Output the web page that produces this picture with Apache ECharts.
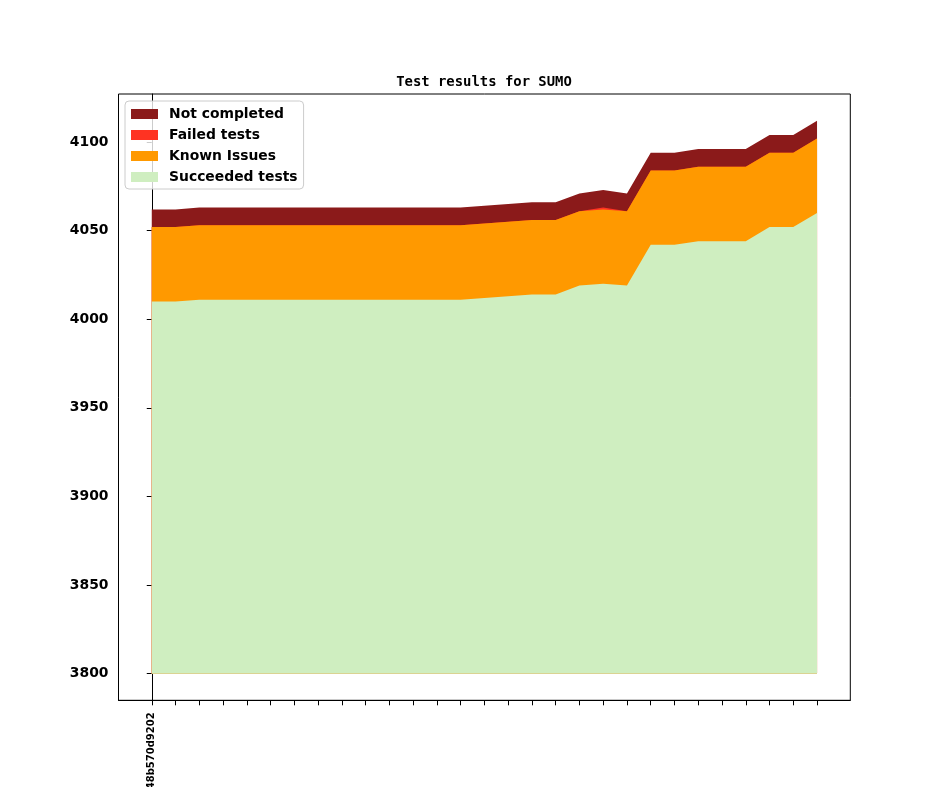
<!DOCTYPE html>
<html>
<head>
    <meta charset="utf-8">
    <script src="https://cdn.jsdelivr.net/npm/echarts@6.0.0/dist/echarts.min.js"></script>
    <style>
        html, body { margin: 0; padding: 0; background: #fff; }
        #main { width: 944px; height: 787px; }
    </style>
</head>
<body>
<div id="main"></div>
<script>
    // one entry per commit, only the first one is labelled in the picture
    var commits = ['48b570d9202', '', '', '', '', '', '', '', '', '', '', '', '', '', '',
        '', '', '', '', '', '', '', '', '', '', '', '', '', ''];
    var succeeded = [4010, 4010, 4011, 4011, 4011, 4011, 4011, 4011, 4011, 4011, 4011, 4011, 4011, 4011,
        4012, 4013, 4014, 4014, 4019, 4020, 4019, 4042, 4042, 4044, 4044, 4044, 4052, 4052, 4060];
    var knownIssues = [42, 42, 42, 42, 42, 42, 42, 42, 42, 42, 42, 42, 42, 42, 42,
        42, 42, 42, 42, 42, 42, 42, 42, 42, 42, 42, 42, 42, 42];
    var failed = [0, 0, 0, 0, 0, 0, 0, 0, 0, 0, 0, 0, 0, 0, 0,
        0, 0, 0, 0, 1, 0, 0, 0, 0, 0, 0, 0, 0, 0];
    var notCompleted = [10, 10, 10, 10, 10, 10, 10, 10, 10, 10, 10, 10, 10, 10, 10,
        10, 10, 10, 10, 10, 10, 10, 10, 10, 10, 10, 10, 10, 10];
    var yTicks = [3800, 3850, 3900, 3950, 4000, 4050, 4100];
    var areaBase = 3800;

    var xIdx = commits.map(function (c, i) { return i; });

    // running tops of the stack, bottom layer first
    var topSucc = succeeded.slice();
    var topKnown = topSucc.map(function (v, i) { return v + knownIssues[i]; });
    var topFailed = topKnown.map(function (v, i) { return v + failed[i]; });
    var topNc = topFailed.map(function (v, i) { return v + notCompleted[i]; });

    function pts(arr) {
        return arr.map(function (v, i) { return [i, v]; });
    }

    function areaSeries(name, color, arr) {
        return {
            name: name,
            type: 'line',
            data: pts(arr),
            showSymbol: false,
            symbol: 'none',
            silent: true,
            lineStyle: { width: 0, color: color },
            itemStyle: { color: color },
            areaStyle: { color: color, opacity: 1, origin: areaBase }
        };
    }

    var font = 'DejaVu Sans';
    var chart = echarts.init(document.getElementById('main'), null, { renderer: 'canvas' });
    chart.setOption({
        animation: false,
        backgroundColor: '#ffffff',
        title: {
            text: 'Test results for SUMO',
            left: 484,
            top: 75,
            padding: 0,
            textAlign: 'center',
            textStyle: {
                fontFamily: 'DejaVu Sans Mono',
                fontWeight: 'bold',
                fontSize: 13.9,
                color: '#000'
            }
        },
        legend: {
            orient: 'vertical',
            left: 125,
            top: 101,
            padding: [5, 6, 4, 6],
            itemGap: 5,
            itemWidth: 27,
            itemHeight: 10,
            icon: 'rect',
            borderColor: '#cccccc',
            borderWidth: 1,
            borderRadius: 4,
            backgroundColor: 'rgba(255,255,255,0.8)',
            selectedMode: false,
            data: ['Not completed', 'Failed tests', 'Known Issues', 'Succeeded tests'],
            textStyle: {
                fontFamily: font,
                fontWeight: 'bold',
                fontSize: 13.9,
                lineHeight: 16,
                color: '#000',
                padding: [0, 0, 0, 6]
            }
        },
        grid: {
            left: 118.5,
            right: 93.7,
            top: 94,
            bottom: 86.7,
            show: true,
            borderColor: '#000',
            borderWidth: 1,
            containLabel: false,
            outerBoundsMode: 'none'
        },
        xAxis: {
            type: 'value',
            min: -1.4,
            max: 29.4,
            splitLine: { show: false },
            axisLine: { show: true, lineStyle: { color: '#000', width: 1 } },
            axisTick: {
                show: true,
                length: 5,
                inside: false,
                customValues: xIdx,
                lineStyle: { color: '#000' }
            },
            axisLabel: {
                customValues: [0],
                rotate: 90,
                margin: 12,
                fontFamily: font,
                fontWeight: 'bold',
                fontSize: 10,
                color: '#000',
                formatter: function (v) { return commits[Math.round(v)] || ''; }
            }
        },
        yAxis: {
            type: 'value',
            min: 3785,
            max: 4127.1,
            splitLine: { show: false },
            axisLine: { show: true, lineStyle: { color: '#000', width: 1 } },
            axisTick: {
                show: true,
                length: 5,
                customValues: yTicks,
                lineStyle: { color: '#000' }
            },
            axisLabel: {
                customValues: yTicks,
                margin: 10,
                fontFamily: font,
                fontWeight: 'bold',
                fontSize: 13.9,
                color: '#000',
                formatter: function (v) { return String(v); }
            }
        },
        series: [
            areaSeries('Not completed', '#8b1a1a', topNc),
            areaSeries('Failed tests', '#ff3322', topFailed),
            areaSeries('Known Issues', '#ff9900', topKnown),
            areaSeries('Succeeded tests', '#cfeec0', topSucc)
        ]
    });
</script>
</body>
</html>
